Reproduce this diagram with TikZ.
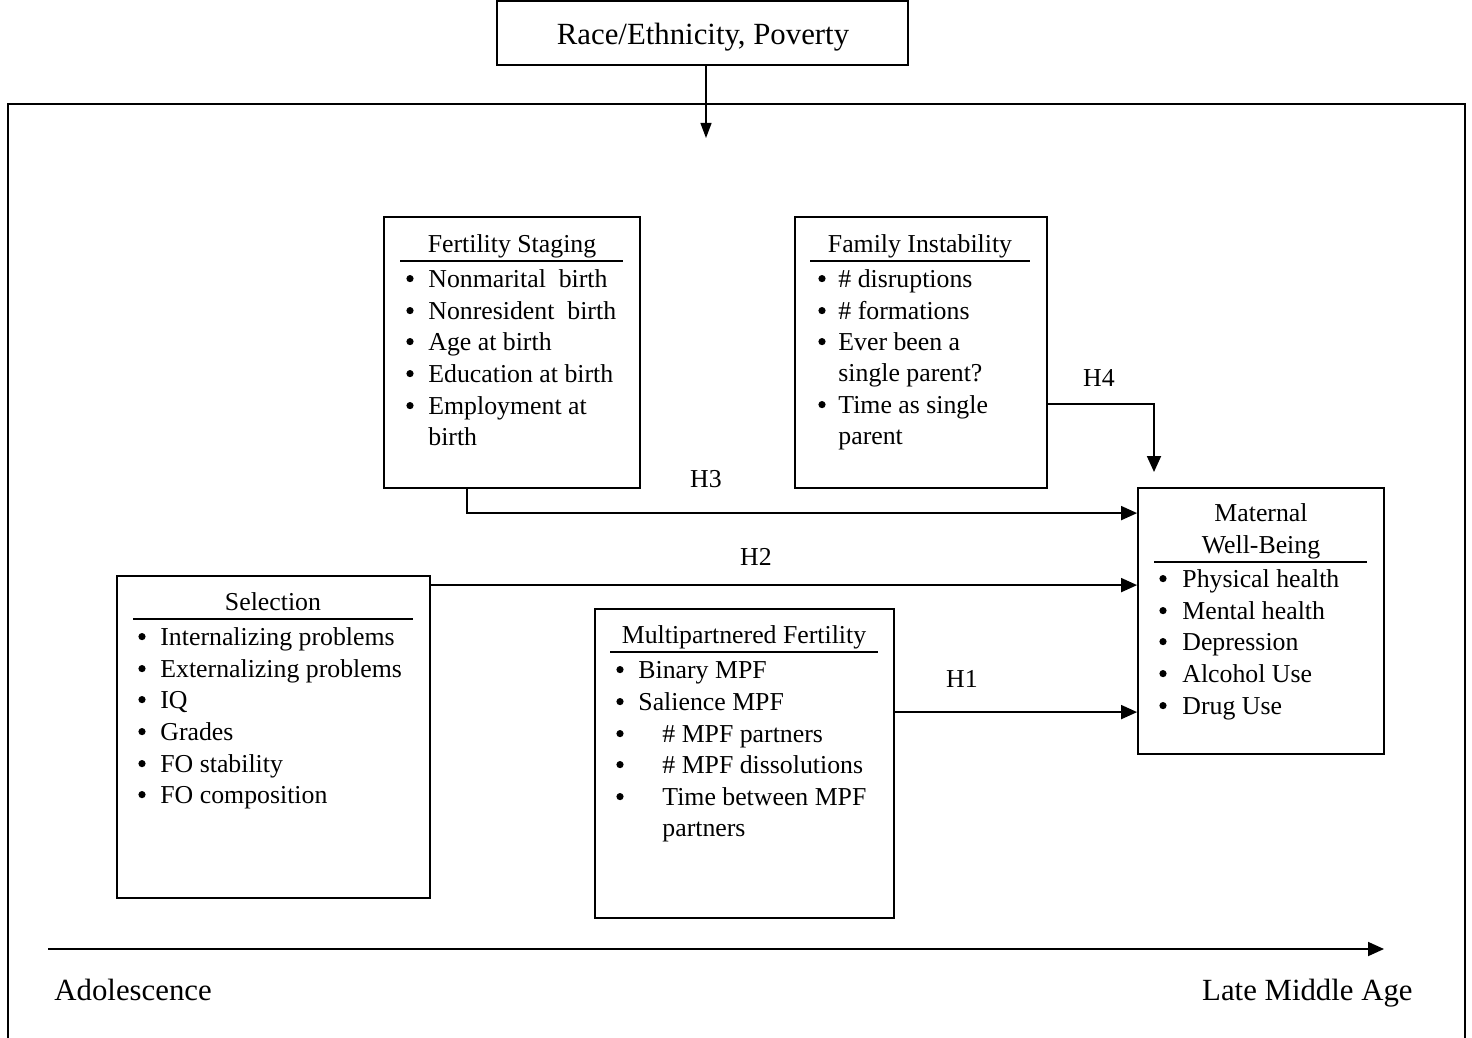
\documentclass[tikz,border=0pt]{standalone}
\usepackage{fontspec}
\setmainfont{Liberation Serif}
\usetikzlibrary{arrows.meta, positioning, fit, calc}

\begin{document}
\begin{tikzpicture}[x=0.5pt, y=-0.5pt,
  font=\fontsize{12.9}{15.8}\selectfont,
  box/.style={draw, line width=0.9pt, inner sep=0pt},
  txt/.style={inner sep=0pt, anchor=base west},
  head/.style={inner sep=0pt, anchor=base},
  bul/.style={circle, fill, inner sep=0pt, minimum size=3.6pt, yshift=4.2pt},
  big/.style={font=\fontsize{15.4}{18}\selectfont},
  link/.style={line width=0.9pt, -{Triangle[length=8pt, width=7pt]}}]

\useasboundingbox (0,0) rectangle (1472,1038);

% outer frame
\draw[line width=0.9pt] (8,1040) -- (8,104) -- (1465,104) -- (1465,1040);

% top box
\node[box, fit={(497,1) (908,65)}] (race) {};
\node[head, big] (race-t) at (703,45) {Race/Ethnicity, Poverty};
\coordinate (racetip) at (706,138);
\draw[line width=0.6pt, -{Triangle[length=7.5pt, width=5.5pt]}] (racetip |- race.south) -- (racetip);

% fertility staging
\node[box, fit={(384,217) (640,488)}] (fert) {};
\node[head] (fert-h) at (512,252) {Fertility Staging};
\draw[line width=0.9pt] (400,261) -- (623,261);
\foreach \y/\t [count=\i] in {287/Nonmarital~ birth, 319/Nonresident~ birth, 350/Age at birth,
    382/Education at birth, 414/Employment at} {
  \node[bul] (fert-b\i) at (410,\y) {};
  \node[txt] (fert-\i) at (428,\y) {\t};
}
\node[txt] (fert-6) at (428,445) {birth};

% family instability
\node[box, fit={(795,217) (1047,488)}] (fam) {};
\node[head] (fam-h) at (920,252) {Family Instability};
\draw[line width=0.9pt] (810,261) -- (1030,261);
\foreach \y in {287,319,350,413}
  \node[bul] (fam-b\y) at (822,\y) {};
\foreach \y/\t [count=\i] in {287/\# disruptions, 319/\# formations, 350/Ever been a,
    381/single parent?, 413/Time as single, 444/parent}
  \node[txt] (fam-\i) at (838,\y) {\t};

% maternal well-being
\node[box, fit={(1138,488) (1384,754)}] (mat) {};
\node[head] (mat-h1) at (1261,521) {Maternal};
\node[head] (mat-h2) at (1261,553) {Well-Being};
\draw[line width=0.9pt] (1154,562) -- (1367,562);
\foreach \y/\t [count=\i] in {587/Physical health, 619/Mental health, 650/Depression,
    682/Alcohol Use, 714/Drug Use} {
  \node[bul] (mat-b\i) at (1163,\y) {};
  \node[txt] (mat-\i) at (1182,\y) {\t};
}

% selection
\node[box, fit={(117,576) (430,898)}] (sel) {};
\node[head] (sel-h) at (273,610) {Selection};
\draw[line width=0.9pt] (133,619) -- (413,619);
\foreach \y/\t [count=\i] in {645/Internalizing problems, 677/Externalizing problems, 708/IQ,
    740/Grades, 772/FO stability, 803/FO composition} {
  \node[bul] (sel-b\i) at (142,\y) {};
  \node[txt] (sel-\i) at (160,\y) {\t};
}

% multipartnered fertility
\node[box, fit={(595,609) (894,918)}] (mpf) {};
\node[head] (mpf-h) at (744,643) {Multipartnered Fertility};
\draw[line width=0.9pt] (610,652) -- (878,652);
\foreach \y in {678,710,742,773,805}
  \node[bul] (mpf-b\y) at (620,\y) {};
\foreach \y/\x/\t [count=\i] in {678/638/Binary MPF, 710/638/Salience MPF, 742/662/\# MPF partners,
    773/662/\# MPF dissolutions, 805/662/Time between MPF, 836/662/partners}
  \node[txt] (mpf-\i) at (\x,\y) {\t};

% hypotheses
\coordinate (h4end) at (1154,472);
\draw[link] ($(fam.north east)+(0,188)$) -| (h4end);
\node[head] (h4) at (1099,386) {H4};

\coordinate (h3a) at ($(fert.south west)+(84,0)$);
\draw[link] (h3a) |- ($(mat.north west)+(0,26)$);
\node[head] (h3) at (706,487) {H3};

\coordinate (h2a) at ($(sel.north east)+(0,10)$);
\draw[link] (h2a) -- (h2a -| mat.west);
\node[head] (h2) at (756,565) {H2};

\coordinate (h1a) at ($(mpf.north east)+(0,104)$);
\draw[link] (h1a) -- (h1a -| mat.west);
\node[head] (h1) at (962,687) {H1};

% time line
\coordinate (tl0) at (48,949);
\coordinate (tl1) at (1384,949);
\draw[link] (tl0) -- (tl1);
\node[txt, big] (adol) at (54,1000) {Adolescence};
\node[txt, big, anchor=base east] (late) at (1413,1000) {Late Middle Age};
\end{tikzpicture}
\end{document}
